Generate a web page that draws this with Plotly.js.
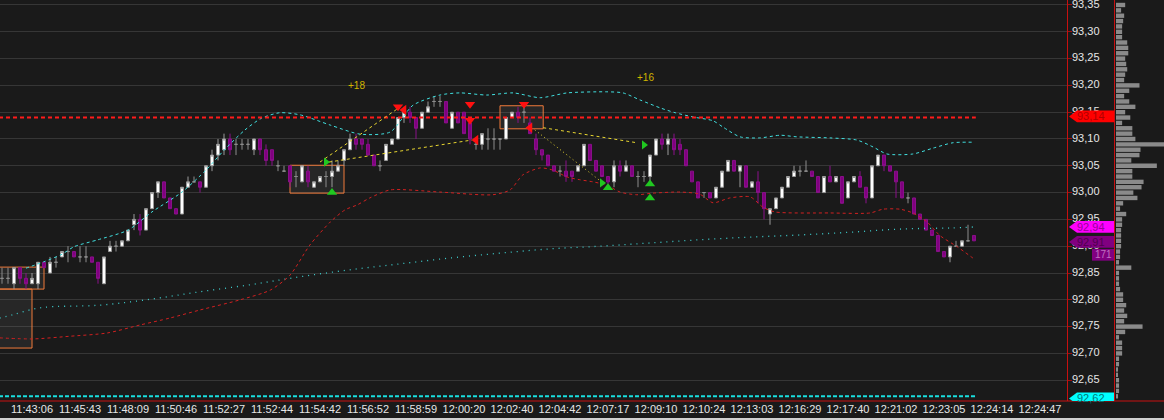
<!DOCTYPE html>
<html><head><meta charset="utf-8">
<script src="https://cdn.plot.ly/plotly-3.0.1.min.js"></script>
<style>html,body{margin:0;padding:0;background:#1a1a1a;overflow:hidden}#chart{width:1164px;height:420px}</style>
</head><body><div id="chart"></div>
<script>
// ---- candle data (bar index = position) ----
const barOpen = [92.84,92.84,92.83,92.86,92.84,92.83,92.83,92.87,92.85,92.87,92.88,92.89,92.89,92.88,92.88,92.88,92.87,92.83,92.89,92.90,
92.90,92.91,92.94,92.95,92.93,92.97,93.00,93.02,92.99,92.97,92.96,93.01,93.02,93.02,93.01,93.05,93.07,93.08,93.10,93.09,
93.09,93.09,93.08,93.10,93.08,93.08,93.05,93.04,93.05,93.03,93.02,93.04,93.01,93.02,93.03,93.03,93.04,93.06,93.08,93.10,
93.10,93.09,93.07,93.05,93.06,93.09,93.10,93.14,93.15,93.14,93.12,93.15,93.17,93.17,93.17,93.12,93.15,93.15,93.13,93.09,
93.09,93.10,93.10,93.10,93.10,93.14,93.15,93.15,93.13,93.10,93.08,93.07,93.05,93.04,93.04,93.04,93.04,93.05,93.09,93.06,
93.05,93.03,93.02,93.05,93.04,93.05,93.03,93.03,93.03,93.07,93.10,93.09,93.10,93.09,93.08,93.04,93.02,93.00,93.00,92.99,
93.01,93.04,93.06,93.04,93.05,93.01,93.02,93.00,92.96,92.97,92.99,93.01,93.03,93.04,93.04,93.04,93.03,93.00,93.03,93.02,
93.03,92.99,93.02,93.03,93.01,92.99,93.05,93.07,93.05,93.04,93.02,92.99,92.99,92.96,92.95,92.93,92.92,92.89,92.88,92.90,
92.90,92.91,92.92];
const barHigh = [92.86,92.86,92.86,92.86,92.85,92.85,92.87,92.87,92.88,92.88,92.89,92.90,92.89,92.90,92.90,92.88,92.87,92.88,92.91,92.91,
92.91,92.93,92.96,92.96,92.97,93.00,93.02,93.02,92.99,92.97,93.01,93.03,93.03,93.02,93.05,93.08,93.10,93.11,93.11,93.10,
93.10,93.10,93.10,93.10,93.09,93.08,93.06,93.05,93.05,93.04,93.05,93.05,93.02,93.03,93.04,93.06,93.06,93.08,93.11,93.11,
93.10,93.10,93.07,93.06,93.09,93.10,93.14,93.16,93.16,93.14,93.15,93.17,93.18,93.18,93.17,93.15,93.15,93.15,93.13,93.10,
93.11,93.12,93.12,93.10,93.14,93.15,93.16,93.16,93.14,93.11,93.08,93.07,93.05,93.05,93.06,93.04,93.05,93.09,93.09,93.06,
93.05,93.03,93.06,93.06,93.06,93.05,93.04,93.04,93.07,93.10,93.11,93.11,93.11,93.10,93.08,93.04,93.02,93.00,93.00,93.01,
93.04,93.06,93.06,93.05,93.05,93.02,93.04,93.00,92.97,92.99,93.01,93.03,93.05,93.05,93.06,93.04,93.03,93.03,93.05,93.03,
93.03,93.02,93.03,93.04,93.01,93.05,93.07,93.07,93.05,93.04,93.02,93.00,92.99,92.96,92.95,92.93,92.92,92.89,92.90,92.91,
92.91,92.94,92.92];
const barLow = [92.83,92.83,92.82,92.83,92.82,92.83,92.82,92.86,92.85,92.86,92.88,92.87,92.88,92.87,92.87,92.87,92.83,92.83,92.89,92.89,
92.90,92.91,92.93,92.92,92.93,92.97,92.99,92.99,92.97,92.96,92.96,93.01,93.02,93.00,93.01,93.04,93.06,93.07,93.07,93.07,
93.08,93.08,93.07,93.07,93.05,93.05,93.04,93.04,93.01,93.01,93.02,93.01,93.01,93.02,93.01,93.01,93.04,93.05,93.08,93.08,
93.08,93.07,93.05,93.04,93.06,93.09,93.10,93.13,93.13,93.10,93.12,93.15,93.16,93.16,93.13,93.12,93.13,93.11,93.09,93.08,
93.08,93.08,93.08,93.08,93.10,93.14,93.13,93.13,93.11,93.07,93.06,93.05,93.04,93.03,93.02,93.02,93.04,93.05,93.06,93.04,
93.03,93.01,93.01,93.03,93.04,93.03,93.01,93.02,93.02,93.07,93.08,93.07,93.07,93.07,93.05,93.02,92.99,92.99,92.99,92.99,
93.01,93.04,93.04,93.01,93.01,93.01,92.98,92.95,92.94,92.97,92.99,93.01,93.03,93.03,93.04,93.03,93.00,93.00,93.02,93.02,
92.98,92.99,93.02,93.01,92.98,92.99,93.05,93.04,93.04,92.99,92.99,92.98,92.96,92.95,92.93,92.92,92.89,92.88,92.87,92.90,
92.90,92.91,92.91];
const barClose = [92.84,92.84,92.86,92.84,92.83,92.84,92.87,92.86,92.87,92.87,92.89,92.89,92.88,92.88,92.88,92.87,92.84,92.88,92.90,92.90,
92.91,92.93,92.95,92.93,92.97,93.00,93.02,92.99,92.97,92.96,93.01,93.02,93.02,93.01,93.05,93.07,93.09,93.10,93.08,93.09,
93.09,93.09,93.10,93.08,93.06,93.06,93.05,93.04,93.02,93.03,93.05,93.02,93.02,93.03,93.03,93.04,93.05,93.08,93.10,93.09,
93.09,93.07,93.05,93.05,93.09,93.10,93.14,93.15,93.14,93.12,93.15,93.16,93.17,93.17,93.13,93.15,93.13,93.11,93.10,93.09,
93.11,93.10,93.10,93.10,93.14,93.15,93.14,93.15,93.11,93.08,93.07,93.05,93.04,93.04,93.03,93.03,93.05,93.09,93.06,93.04,
93.03,93.02,93.05,93.04,93.05,93.03,93.03,93.03,93.07,93.10,93.09,93.10,93.08,93.08,93.05,93.02,92.99,93.00,92.99,93.01,
93.04,93.06,93.04,93.05,93.01,93.02,93.00,92.97,92.97,92.99,93.01,93.03,93.04,93.04,93.04,93.03,93.00,93.03,93.02,93.03,
92.98,93.02,93.03,93.01,92.99,93.05,93.07,93.05,93.04,93.02,92.99,92.99,92.96,92.95,92.93,92.92,92.89,92.88,92.90,92.90,
92.91,92.91,92.91];

// ---- indicator series (bar index, price) ----
const upperBandBar = [4,7,10,12,16,21,25,30,34,37,40.5,43.3,46.3,49.7,54.7,59.7,64.7,68.5,73,76.3,80.8,85.2,89.7,94.2,100.8,103.5,106.3,109.7,112.2,115.2,118.5,120.2,123,126.3,129.7,132.5,138,142.5,145.2,147.5,151.8,155.2,158.5,161.8];
const upperBandVal = [92.859,92.871,92.885,92.899,92.912,92.930,92.964,93.001,93.042,93.079,93.117,93.139,93.149,93.145,93.126,93.109,93.113,93.163,93.182,93.186,93.182,93.186,93.177,93.186,93.188,93.186,93.173,93.158,93.149,93.141,93.134,93.122,93.104,93.102,93.107,93.104,93.102,93.098,93.085,93.072,93.072,93.083,93.093,93.094];
const lowerBandBar = [-0.4,5.2,11.3,17.5,23,28,33,39.7,44.7,48,51.3,54.7,57.2,59.2,61.3,64.7,73,81.8,84.7,86.8,89.7,91.8,94.2,96.3,98.5,100.8,103,105.8,108.5,113,116.3,118.5,121.3,124.7,126.8,128.8,138,144.7,146.8,149.7,151.8,154.2,156.3,159.2,161.8];
const lowerBandVal = [92.729,92.727,92.732,92.738,92.753,92.766,92.781,92.800,92.818,92.846,92.902,92.945,92.968,92.977,92.990,93.005,93.001,92.996,93.005,93.033,93.046,93.042,93.029,93.024,93.020,93.014,93.001,92.996,92.999,93.001,92.997,92.981,92.990,92.992,92.973,92.964,92.962,92.962,92.969,92.969,92.962,92.945,92.920,92.899,92.878];
const slowMaBar = [-0.4,1.8,6.3,16.3,24.7,33,41.3,49.7,58,66.3,74.7,83,91.3,99.7,108,116.3,124.7,133,141.3,149.7,158,162.2];
const slowMaVal = [92.766,92.772,92.785,92.790,92.801,92.815,92.828,92.843,92.856,92.867,92.878,92.887,92.895,92.900,92.906,92.912,92.917,92.921,92.926,92.932,92.934,92.936];

const resistanceLevel = 93.14;
const supportLevel = 92.62;

// ---- signals ----
const sellTriBar = [66,78,78,87];  const sellTriVal = [93.160,93.165,93.135,93.165];
const sellArrBar = [67,79,88];     const sellArrVal = [93.154,93.098,93.121];
const buyArrBar  = [54,107,100];   const buyArrVal  = [93.057,93.089,93.018];
const buyTriBar  = [55,101,108,108]; const buyTriVal = [93.000,93.009,93.016,92.990];
const linkLines = [
  {bar:[53,66], val:[93.057,93.157], dash:'3px,3px'},
  {bar:[54.5,78.3], val:[93.057,93.098], dash:'3px,3px'},
  {bar:[90.2,105.8], val:[93.121,93.093], dash:'3px,3px'},
  {bar:[88.8,99.7], val:[93.117,93.022], dash:'1px,3px'}
];
const zones = [
  {bar:[48,57], val:[92.999,93.051]},
  {bar:[83,90.2], val:[93.119,93.162]},
  {bar:[-0.5,7], val:[92.820,92.861]},
  {bar:[-0.5,5], val:[92.710,92.820]}
];
const countLabels = [{bar:59, val:93.199, text:'+18'},{bar:107.2, val:93.214, text:'+16'}];

// ---- axis labels ----
const timeTickBar = [5,13,21,29,37,45,53,61,69,77,85,93,101,109,117,125,133,141,149,157,165,173];
const timeTickText = ['11:43:06','11:45:43','11:48:09','11:50:46','11:52:27','11:52:44','11:54:42','11:56:52','11:58:59','12:00:20','12:02:40','12:04:42','12:07:17','12:09:10','12:10:24','12:13:03','12:16:29','12:17:40','12:21:02','12:23:05','12:24:14','12:24:47'];
const priceTickVal = [92.65,92.70,92.75,92.80,92.85,92.90,92.95,93.00,93.05,93.10,93.15,93.20,93.25,93.30,93.35];
const priceTickText = ['92,65','92,70','92,75','92,80','92,85','92,90','92,95','93,00','93,05','93,10','93,15','93,20','93,25','93,30','93,35'];

// ---- volume profile (from 93.35 down to 92.62, step 0.01) ----
const profileVolume = [9,5,8,7,6,6,6,11,12,12,9,10,11,9,8,23,13,8,13,19,9,14,6,16,16,19,47,24,23,15,40,16,16,27,25,17,21,7,4,
10,6,6,5,5,5,5,4,4,3,15,3,3,3,4,7,7,10,8,11,8,26,9,3,6,6,6,3,3,2,2,3,3,3,2];
const profileLevel = profileVolume.map((_, i) => Math.round((93.35 - i*0.01)*100)/100);

// ---- last-value tags on the price axis ----
const priceTags = [
  {val:93.142, text:'93,14', fill:'#ff0000', color:'#b00000'},
  {val:92.936, text:'92,94', fill:'#ff00ff', color:'#9a009a'},
  {val:92.908, text:'92,91', fill:'#800080', color:'#4e004e'},
  {val:92.616, text:'92,62', fill:'#00ffff', color:'#007a7a'}
];

// ===== build =====
const yRange = [92.6112, 93.3593];
const idx = barOpen.map((_, i) => i);
function pick(cond){ const o={x:[],open:[],high:[],low:[],close:[]}; idx.forEach(i=>{ if(cond(i)){o.x.push(i);o.open.push(barOpen[i]);o.high.push(barHigh[i]);o.low.push(barLow[i]);o.close.push(barClose[i]);} }); return o; }
const eps = 1e-6;
const up = pick(i => barClose[i] - barOpen[i] > eps);
const dn = pick(i => barOpen[i] - barClose[i] > eps);
const dj = pick(i => Math.abs(barClose[i] - barOpen[i]) <= eps);

const traces = [];
traces.push({type:'scatter', mode:'lines', x:slowMaBar, y:slowMaVal, line:{color:'#3fd0d0', width:1.3, dash:'1px,5px', shape:'spline'}, hoverinfo:'skip'});
traces.push({type:'scatter', mode:'lines', x:upperBandBar, y:upperBandVal, line:{color:'#40e0e0', width:1, dash:'3px,3px', shape:'spline', smoothing:0.7}, hoverinfo:'skip'});
traces.push({type:'scatter', mode:'lines', x:lowerBandBar, y:lowerBandVal, line:{color:'#d02020', width:1, dash:'3px,3px', shape:'spline', smoothing:0.7}, hoverinfo:'skip'});
traces.push({type:'scatter', mode:'lines', x:[-0.5,162.3], y:[resistanceLevel,resistanceLevel], line:{color:'#ff1a1a', width:2, dash:'4px,3px'}, hoverinfo:'skip'});
traces.push({type:'scatter', mode:'lines', x:[-0.5,162.3], y:[supportLevel,supportLevel], line:{color:'#19dede', width:2, dash:'4px,2px'}, hoverinfo:'skip'});
linkLines.forEach(l => traces.push({type:'scatter', mode:'lines', x:l.bar, y:l.val, line:{color:'#e8d630', width:1, dash:l.dash}, hoverinfo:'skip'}));

const cs = (d, lc, fc) => ({type:'candlestick', x:d.x, open:d.open, high:d.high, low:d.low, close:d.close,
  increasing:{line:{color:lc, width:1}, fillcolor:fc}, decreasing:{line:{color:lc, width:1}, fillcolor:fc}, hoverinfo:'skip', whiskerwidth:0});
traces.push(cs(dj, '#8c8c8c', '#8c8c8c'));
traces.push(cs(up, '#9a9a9a', '#ffffff'));
traces.push(cs(dn, '#8a108a', '#800080'));

traces.push({type:'scatter', mode:'markers', x:sellTriBar, y:sellTriVal, marker:{symbol:'triangle-down', size:9, color:'#ff1010'}, hoverinfo:'skip'});
traces.push({type:'scatter', mode:'markers', x:sellArrBar, y:sellArrVal, marker:{symbol:'triangle-left', size:9, color:'#ff1010'}, hoverinfo:'skip'});
traces.push({type:'scatter', mode:'markers', x:buyArrBar, y:buyArrVal, marker:{symbol:'triangle-right', size:8, color:'#20c820'}, hoverinfo:'skip'});
traces.push({type:'scatter', mode:'markers', x:buyTriBar, y:buyTriVal, marker:{symbol:'triangle-up', size:9, color:'#20c820'}, hoverinfo:'skip'});

// volume profile
traces.push({type:'bar', orientation:'h', x:profileVolume, y:profileLevel, xaxis:'x2', yaxis:'y2', width:0.0082, marker:{color:'#8a8a8a', line:{width:0}}, hoverinfo:'skip'});
// price-scale labels (in their own strip so that value tags can sit on top of them)
traces.push({type:'scatter', mode:'text', x:priceTickVal.map(() => 5), y:priceTickVal, text:priceTickText, textposition:'middle right',
  textfont:{family:'Liberation Sans', size:11, color:'#e6e6e6'}, xaxis:'x3', yaxis:'y3', cliponaxis:false, hoverinfo:'skip'});

const X0 = 1067/1164;
const shapes = [];
zones.forEach(z => shapes.push({type:'rect', xref:'x', yref:'y', x0:z.bar[0], x1:z.bar[1], y0:z.val[0], y1:z.val[1], fillcolor:'rgba(130,130,130,0.13)', line:{color:'#f07a3a', width:1}, layer:'between'}));
shapes.push({type:'line', xref:'paper', yref:'paper', x0:0, x1:1, y0:0, y1:0, line:{color:'#c81010', width:1}});
shapes.push({type:'line', xref:'paper', yref:'paper', x0:1114.5/1164, x1:1114.5/1164, y0:0, y1:1, line:{color:'#c81010', width:1}});
shapes.push({type:'rect', xref:'paper', yref:'paper', x0:0, x1:1, y0:-17/401, y1:-19.5/401, fillcolor:'#d0d0d0', line:{width:0}});
const tipX = 1069/1164, bodyX = 1077/1164, endX = 1114/1164, half = 0.0110;
priceTags.forEach(t => shapes.push({type:'path', xref:'paper', yref:'y', layer:'above',
  path:`M ${tipX},${t.val} L ${bodyX},${t.val+half} L ${endX},${t.val+half} L ${endX},${t.val-half} L ${bodyX},${t.val-half} Z`,
  fillcolor:t.fill, line:{width:0}}));
shapes.push({type:'rect', xref:'paper', yref:'y', x0:1092/1164, x1:1114/1164, y0:92.895, y1:92.873, fillcolor:'#800080', line:{width:0}, layer:'above'});

const annotations = [];
countLabels.forEach(c => annotations.push({xref:'x', yref:'y', x:c.bar, y:c.val, text:c.text, showarrow:false, font:{family:'Liberation Sans', size:10, color:'#d0b400'}}));
priceTags.forEach(t => annotations.push({xref:'paper', yref:'y', x:1091/1164, y:t.val, xanchor:'center', yanchor:'middle', text:t.text, showarrow:false, font:{family:'Liberation Sans', size:11, color:t.color}}));
annotations.push({xref:'paper', yref:'y', x:1103/1164, y:92.884, xanchor:'center', yanchor:'middle', text:'171', showarrow:false, font:{family:'Liberation Sans', size:10, color:'#c070c0'}});

const layout = {
  width:1164, height:420, margin:{l:0, r:0, t:0, b:19},
  paper_bgcolor:'#1a1a1a', plot_bgcolor:'#1a1a1a', showlegend:false,
  boxgap:0.3, boxgroupgap:0.3,
  font:{family:'Liberation Sans', size:11, color:'#e6e6e6'},
  xaxis:{domain:[0, X0], range:[-1/3, 177.5], rangeslider:{visible:false}, showgrid:false, zeroline:false,
    tickmode:'array', tickvals:timeTickBar, ticktext:timeTickText, ticks:'', showline:false,
    tickfont:{family:'Liberation Sans', size:11, color:'#e6e6e6'}, fixedrange:true},
  yaxis:{range:yRange, side:'right', tickmode:'array', tickvals:priceTickVal, showticklabels:false,
    showgrid:true, gridcolor:'#363636', gridwidth:1, zeroline:false, ticks:'outside', ticklen:4, tickcolor:'#a01010',
    showline:true, linecolor:'#c81010', linewidth:1, fixedrange:true},
  xaxis2:{domain:[1116/1164, 1], range:[0, 47], anchor:'y2', visible:false, fixedrange:true},
  yaxis2:{range:yRange, anchor:'x2', visible:false, fixedrange:true},
  xaxis3:{domain:[X0, 1114/1164], range:[0, 47], anchor:'y3', visible:false, fixedrange:true},
  yaxis3:{range:yRange, anchor:'x3', visible:false, fixedrange:true},
  shapes, annotations
};
Plotly.newPlot('chart', traces, layout, {staticPlot:true, displayModeBar:false});
</script></body></html>
